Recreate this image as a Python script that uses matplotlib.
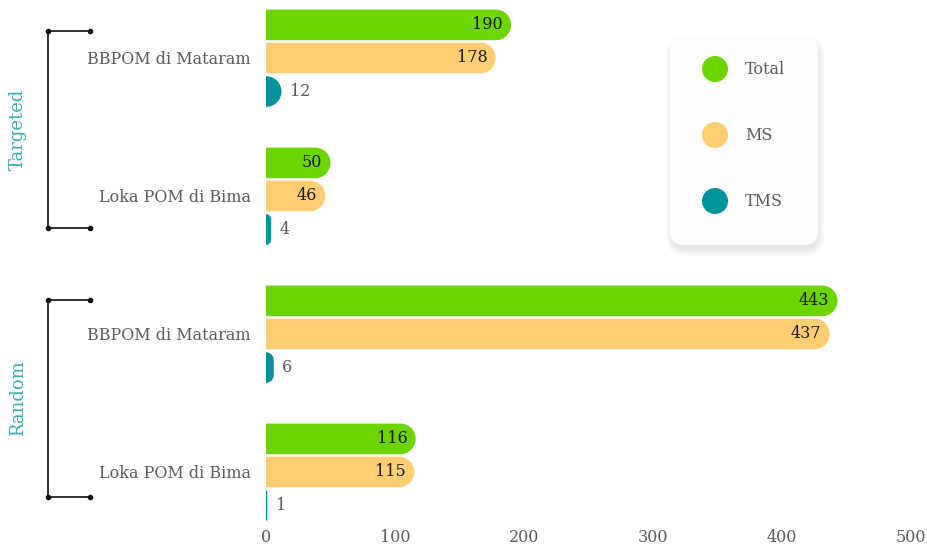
import matplotlib.pyplot as plt
import numpy as np
from matplotlib.patches import Polygon, FancyBboxPatch, Circle
from matplotlib.lines import Line2D

# data
groups = ['Targeted', 'Random']
offices = ['BBPOM di Mataram', 'Loka POM di Bima']
series = ['Total', 'MS', 'TMS']
total = [190, 50, 443, 116]
ms = [178, 46, 437, 115]
tms = [12, 4, 6, 1]
ticks = [0, 100, 200, 300, 400, 500]

colors = ['#6CD500', '#FFCD72', '#00939B']
grey = '#5b5b60'
teal_txt = '#3aaeb0'
font = 'DejaVu Serif'
plt.rcParams['font.family'] = font

W, H = 928, 552
fig = plt.figure(figsize=(W / 100, H / 100), dpi=100)

# overlay in pixel coords for the legend box (behind everything)
ov = fig.add_axes([0, 0, 1, 1], zorder=-1)
ov.set_xlim(0, W)
ov.set_ylim(H, 0)
ov.axis('off')

ax = fig.add_axes([266 / W, 1 - 525 / H, 645 / W, 520 / H])
ax.patch.set_visible(False)
ax.set_xlim(0, 500)
ax.set_ylim(3 + 53 / 138, -53 / 138)
for s in ax.spines.values():
    s.set_visible(False)
ax.set_yticks(range(4))
ax.set_yticklabels(offices * 2, fontsize=11.5, color=grey)
ax.tick_params(axis='y', length=0, pad=11)
ax.set_xticks(ticks)
ax.set_xticklabels([str(t) for t in ticks], fontsize=11.5, color=grey)
ax.tick_params(axis='x', length=0, pad=3)

# pixels per data unit
sx = ax.bbox.width / 500
sy = ax.bbox.height / (3 + 106 / 138)

offsets = [-0.24, 0.0, 0.243]
bh = 0.222


def round_bar(y, w, h, color):
    y0, y1 = y - h / 2, y + h / 2
    wpx, hpx = w * sx, h * sy
    r = min(hpx / 2, wpx)
    rx, ry = r / sx, r / sy
    t = np.linspace(np.pi / 2, 0, 20)
    cx = w - rx
    top = np.column_stack([cx + rx * np.cos(t), y0 + ry - ry * np.sin(t)])
    t2 = np.linspace(0, np.pi / 2, 20)
    bot = np.column_stack([cx + rx * np.cos(t2), y1 - ry + ry * np.sin(t2)])
    pts = np.vstack([[[0, y0]], top, bot, [[0, y1]]])
    ax.add_patch(Polygon(pts, closed=True, facecolor=color, edgecolor='none'))


for i in range(4):
    for k, vals in enumerate([total, ms, tms]):
        v = vals[i]
        y = i + offsets[k]
        round_bar(y, v, bh, colors[k])
        if k < 2:
            ax.annotate(str(v), (v, y), xytext=(-6, 0), textcoords='offset points',
                        ha='right', va='center', fontsize=11.5, color='#1a1a1a')
        else:
            ax.annotate(str(v), (v, y), xytext=(6, 0), textcoords='offset points',
                        ha='left', va='center', fontsize=11.5, color=grey)

ov2 = fig.add_axes([0, 0, 1, 1])
ov2.set_xlim(0, W)
ov2.set_ylim(H, 0)
ov2.axis('off')

for g, (ytop, ybot) in zip(groups, [(31, 228), (300, 497)]):
    ov2.add_line(Line2D([90, 48, 48, 90], [ytop, ytop, ybot, ybot], color='#222222', lw=1.3))
    ov2.plot([48, 90, 48, 90], [ytop, ytop, ybot, ybot], 'o', color='#111111', ms=3)
    ov2.text(18, (ytop + ybot) / 2, g, rotation=90, ha='center', va='center',
             fontsize=13, color=teal_txt)

# legend box with soft shadow
for j in range(8):
    ov.add_patch(FancyBboxPatch((672 - j, 40 - j + 3), 146 + 2 * j, 206 + 2 * j,
                                boxstyle='round,pad=0,rounding_size=%d' % (14 + j),
                                facecolor='#000000', alpha=0.012, edgecolor='none'))
ov.add_patch(FancyBboxPatch((670, 37), 148, 208, boxstyle='round,pad=0,rounding_size=14',
                            facecolor='#fdfdfd', edgecolor='none'))
for k, name in enumerate(series):
    yy = 69 + k * 66
    ov2.add_patch(Circle((715, yy), 13, facecolor=colors[k], edgecolor='none'))
    ov2.text(745, yy, name, ha='left', va='center', fontsize=11.5, color=grey)

fig.savefig('out.png', dpi=100)
